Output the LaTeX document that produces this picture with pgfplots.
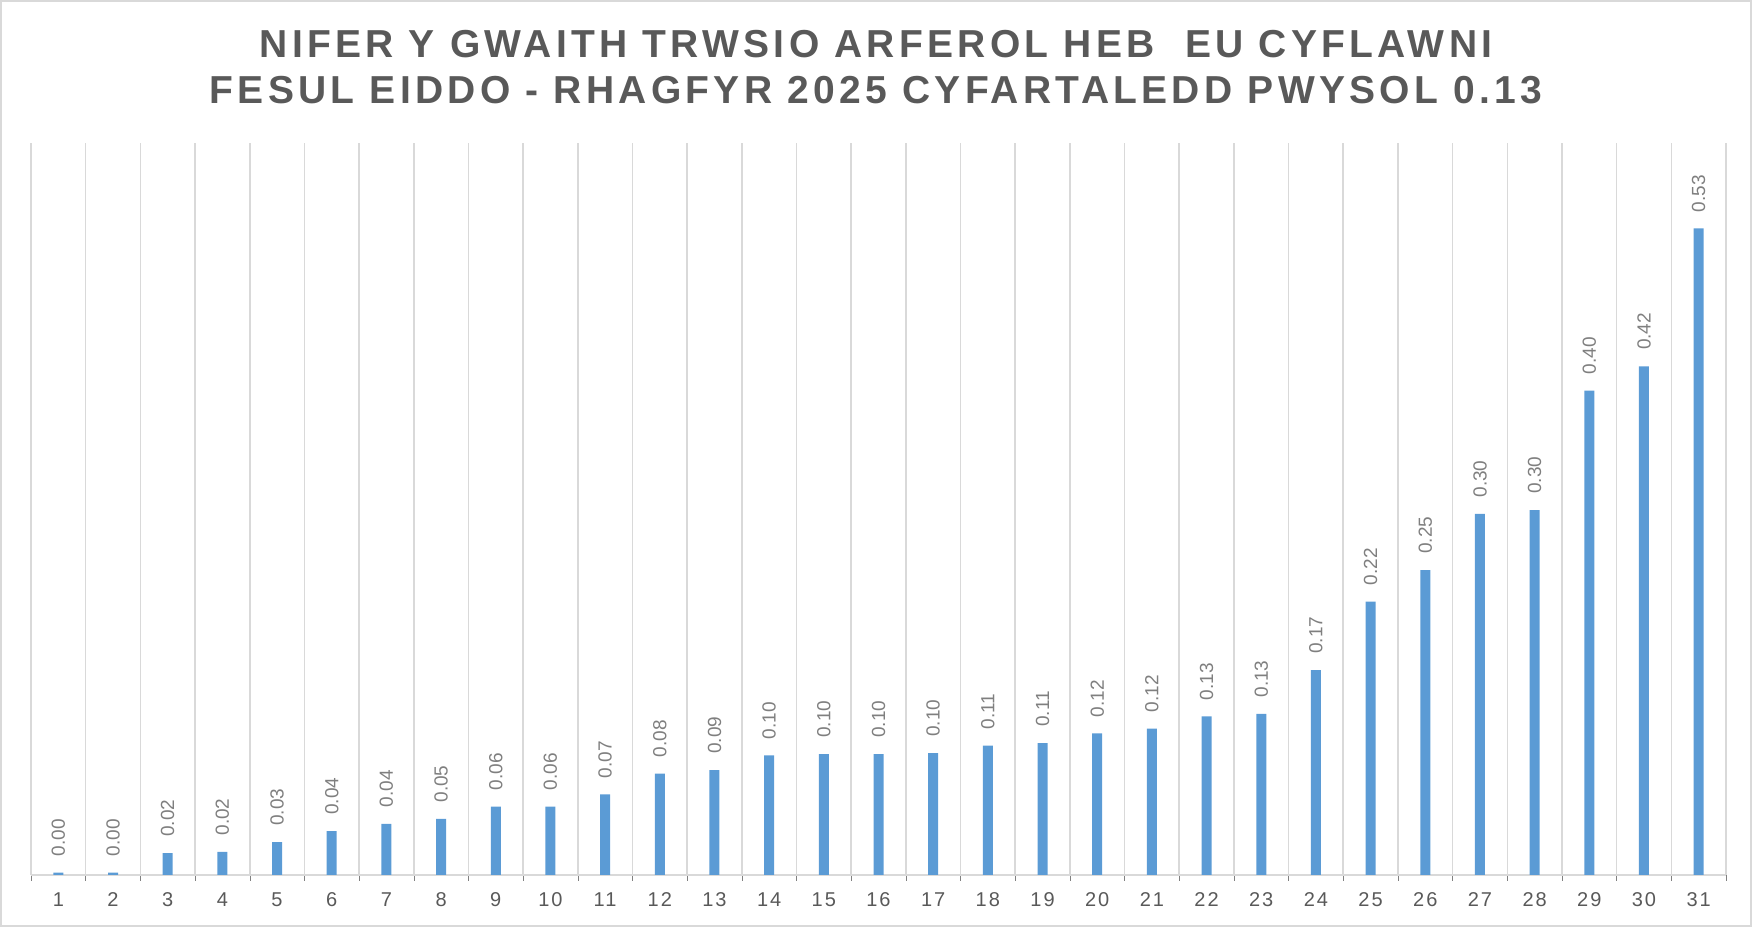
\documentclass[border=0pt]{standalone}
\usepackage{fontspec}
\setmainfont{Liberation Sans}
\newfontfamily\titlefont[LetterSpace=11]{Liberation Sans}
\newfontfamily\tickfont[LetterSpace=10]{Liberation Sans}
\usepackage{pgfplots}
\pgfplotsset{compat=1.18}
\definecolor{barblue}{HTML}{5B9BD5}
\definecolor{titlegray}{HTML}{595959}
\definecolor{labelgray}{HTML}{7F7F7F}
\definecolor{gridgray}{HTML}{D9D9D9}
\begin{document}
\begin{tikzpicture}
\useasboundingbox (0,0) rectangle (876bp,463.5bp);
\draw[gridgray, line width=0.8bp] (0.6bp,0.6bp) rectangle (875.4bp,462.9bp);
\begin{axis}[
  at={(15.5bp,26bp)}, anchor=south west,
  scale only axis, width=847.5bp, height=366bp,
  ybar, bar width=5bp,
  xmin=0.5, xmax=31.5, ymin=0, ymax=0.6,
  axis x line*=bottom, axis y line=none,
  x axis line style={draw=gridgray, line width=0.8bp, -},
  xtick={1,...,31}, major tick length=0pt,
  minor xtick={0.5,1.5,...,31.5},
  minor x grid style={draw=gridgray, line width=0.8bp},
  xminorgrids=true,
  /pgf/number format/assume math mode=true,
  xticklabel style={font=\tickfont\fontsize{10bp}{12bp}\selectfont, text=titlegray, inner sep=0pt, anchor=north, yshift=-8.5bp},
  nodes near coords,
  nodes near coords style={/pgf/number format/fixed, /pgf/number format/fixed zerofill, /pgf/number format/precision=2, /pgf/number format/assume math mode=true},
  every node near coord/.append style={rotate=90, anchor=west, inner xsep=8bp, inner ysep=0pt, font=\fontsize{9.5bp}{11bp}\selectfont, text=labelgray},
  clip=false,
]
\addplot[fill=barblue, draw=none] coordinates {
(1,0.002) (2,0.002) (3,0.018) (4,0.019) (5,0.027) (6,0.036) (7,0.042) (8,0.046)
(9,0.056) (10,0.056) (11,0.066) (12,0.083) (13,0.086) (14,0.098) (15,0.099) (16,0.099)
(17,0.100) (18,0.106) (19,0.108) (20,0.116) (21,0.120) (22,0.130) (23,0.132) (24,0.168)
(25,0.224) (26,0.250) (27,0.296) (28,0.299) (29,0.397) (30,0.417) (31,0.530)
};
\end{axis}
\node[font=\titlefont\bfseries\fontsize{19.5bp}{23bp}\selectfont, text=titlegray, align=center] at (438bp,430bp) {NIFER Y GWAITH TRWSIO ARFEROL HEB~~EU CYFLAWNI\\FESUL EIDDO - RHAGFYR 2025 CYFARTALEDD PWYSOL 0.13};
\end{tikzpicture}
\end{document}
